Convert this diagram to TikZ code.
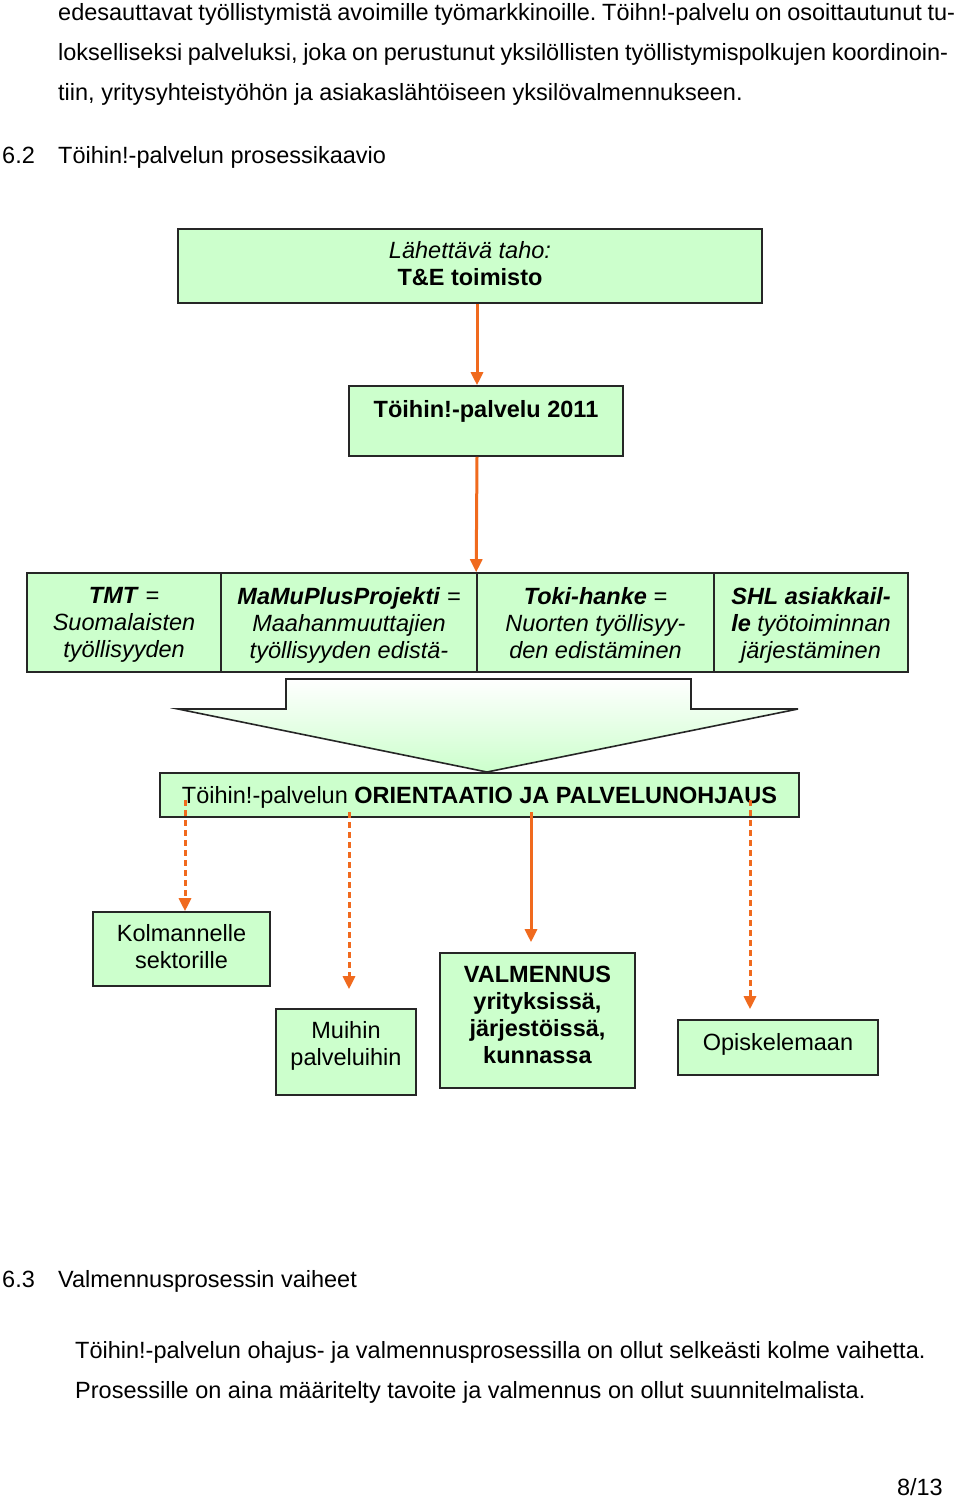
\documentclass[tikz,border=0pt]{standalone}
\usepackage{fontspec}
\setmainfont{Liberation Sans}
\usetikzlibrary{arrows.meta,calc}
\definecolor{boxgreen}{HTML}{CCFFCC}
\definecolor{org}{HTML}{F06A1E}
\newcommand\bodyfont{\fontsize{23.5}{28}\selectfont}
\newcommand\boxfont{\fontsize{23.5}{27}\selectfont}
\frenchspacing
\begin{document}
\begin{tikzpicture}[x=1pt,y=-1pt,
  box/.style={draw=black!85,line width=1.6pt,fill=boxgreen,inner sep=0pt,align=center,font=\boxfont},
  txt/.style={inner sep=0pt,align=center,font=\boxfont},
  arr/.style={draw=org,line width=3pt,-{Triangle[length=13pt,width=12pt]}},
  darr/.style={arr,dash pattern=on 6pt off 4pt},
  body/.style={anchor=base west,inner sep=0pt,font=\bodyfont}]
\useasboundingbox[fill=white] (0,0) rectangle (960,1500);

% running text
\node[body] (p1) at (58,20) {\makebox[897pt][s]{edesauttavat työllistymistä avoimille työmarkkinoille. Töihn!-palvelu on osoittautunut tu-}};
\node[body] (p2) at (58,60) {\makebox[890pt][s]{lokselliseksi palveluksi, joka on perustunut yksilöllisten työllistymispolkujen koordinoin-}};
\node[body] (p3) at (58,100) {tiin, yritysyhteistyöhön ja asiakaslähtöiseen yksilövalmennukseen.};
\node[body] (h62n) at (2,163) {6.2};
\node[body] (h62t) at (58,163) {Töihin!-palvelun prosessikaavio};

% boxes
\node[box,minimum width=584pt,minimum height=74pt] (b1) at (470,266) {};
\node[txt] (b1t) at (470,264) {\textit{Lähettävä taho:}\\\textbf{T\&E toimisto}};
\node[box,minimum width=274pt,minimum height=70pt] (b2) at (486,421) {};
\node[txt] (b2t) at (486,411) {\textbf{Töihin!-palvelu 2011}};

\node[box,minimum width=194pt,minimum height=99pt] (r1) at (124,622.5) {};
\node[box,minimum width=256pt,minimum height=99pt] (r2) at (349,622.5) {};
\node[box,minimum width=237pt,minimum height=99pt] (r3) at (595.5,622.5) {};
\node[box,minimum width=194pt,minimum height=99pt] (r4) at (811,622.5) {};
\node[txt,anchor=north] (r1t) at (124,587)
  {\textbf{\textit{TMT}}\textit{ =}\\\textit{Suomalaisten}\\\textit{työllisyyden}};
\node[txt,anchor=north] (r2t) at (349,587)
  {\textbf{\textit{MaMuPlusProjekti}}\textit{ =}\\\textit{Maahanmuuttajien}\\\textit{työllisyyden edistä-}};
\node[txt,anchor=north] (r3t) at (595.5,587)
  {\textbf{\textit{Toki-hanke}}\textit{ =}\\\textit{Nuorten työllisyy-}\\\textit{den edistäminen}};
\node[txt,anchor=north] (r4t) at (811,587)
  {\textbf{\textit{SHL asiakkail-}}\\\textbf{\textit{le}}\textit{ työtoiminnan}\\\textit{järjestäminen}};

% block arrow
\shadedraw[draw=black!85,line width=1.6pt,top color=white,bottom color=boxgreen]
  (286,679) -- (691,679) -- (691,709) -- (798,709) -- (487,772) -- (178,709) -- (286,709) -- cycle;

\node[box,minimum width=639pt,minimum height=44pt] (ori) at (479.5,795) {};
\node[txt] (orit) at (479.5,797) {Töihin!-palvelun \textbf{ORIENTAATIO JA PALVELUNOHJAUS}};

\node[box,minimum width=177pt,minimum height=74pt] (kol) at (181.5,949) {};
\node[txt] (kolt) at (181.5,947) {Kolmannelle\\sektorille};
\node[box,minimum width=140pt,minimum height=86pt] (mui) at (346,1052) {};
\node[txt] (muit) at (346,1046) {Muihin\\palveluihin};
\node[box,minimum width=195pt,minimum height=135pt] (val) at (537.5,1020.5) {};
\node[txt] (valt) at (537.5,1014.5)
  {\textbf{VALMENNUS}\\\textbf{yrityksissä,}\\\textbf{järjestöissä,}\\\textbf{kunnassa}};
\node[box,minimum width=200pt,minimum height=55pt] (opi) at (778,1047.5) {};
\node[txt] (opit) at (778,1044) {Opiskelemaan};

% connectors
\coordinate (c477) at (477,0);
\draw[arr] (b1.south -| c477) -- (b2.north -| c477);
\draw[arr] (b2.south -| c477) -- (r3.north west);

\coordinate (d1s) at (185,800);
\coordinate (d2s) at (349,812);
\coordinate (d3s) at (531,812);
\coordinate (d4s) at (750,800);
\draw[darr] (d1s) -- (kol.north -| d1s);
\draw[darr,shorten >=19pt] (d2s) -- (mui.north -| d2s);
\draw[arr,shorten >=10pt] (d3s) -- (val.north -| d3s);
\draw[darr,shorten >=10pt] (d4s) -- (opi.north -| d4s);

% bottom text
\node[body] (h63n) at (2,1287) {6.3};
\node[body] (h63t) at (58,1287) {Valmennusprosessin vaiheet};
\node[body] (q1) at (75,1358) {Töihin!-palvelun ohajus- ja valmennusprosessilla on ollut selkeästi kolme vaihetta.};
\node[body] (q2) at (75,1398) {Prosessille on aina määritelty tavoite ja valmennus on ollut suunnitelmalista.};
\node[anchor=base east,inner sep=0pt,font=\bodyfont] (pg) at (943,1495) {8/13};
\end{tikzpicture}
\end{document}
